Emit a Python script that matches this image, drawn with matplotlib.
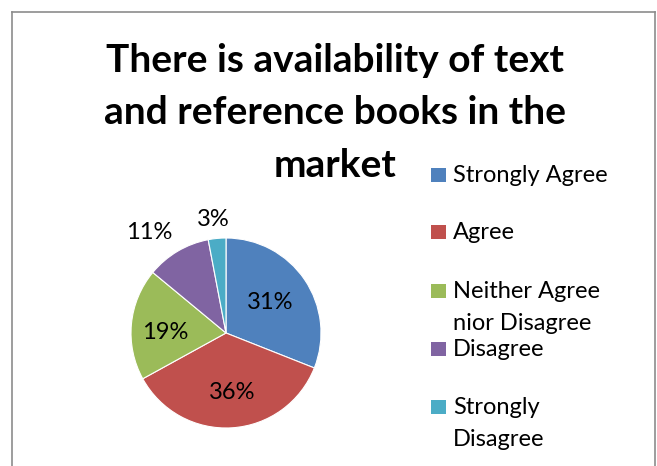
import matplotlib.pyplot as plt
from matplotlib.patches import Rectangle
from matplotlib.lines import Line2D

# ======================================================
# data
# ======================================================
categories = ["Strongly Agree", "Agree", "Neither Agree\nnior Disagree",
              "Disagree", "Strongly\nDisagree"]
shares = [31, 36, 19, 11, 3]
pct_labels = ["31%", "36%", "19%", "11%", "3%"]
colors = ["#4F81BD", "#C0504D", "#9BBB59", "#8064A2", "#4BACC6"]
title = "There is availability of text\nand reference books in the\nmarket"

plt.rcParams["font.family"] = ["Lato", "DejaVu Sans"]

W, H = 657, 466
fig = plt.figure(figsize=(W / 100, H / 100), dpi=100)

def fx(x):
    return x / W

def fy(y):
    return 1 - y / H

# chart frame (runs off the bottom of the picture)
for xs, ys in [([12, 12], [12, 470]), ([12, 655], [12, 12]), ([655, 655], [12, 470])]:
    fig.add_artist(Line2D([fx(x) for x in xs], [fy(y) for y in ys],
                          color="#8c8c8c", lw=1.2))

# ======================================================
# pie
# ======================================================
cx, cy, r = 226, 333, 95
ax = fig.add_axes([fx(cx - r), fy(cy + r), 2 * r / W, 2 * r / H])
wedges, _ = ax.pie(shares, colors=colors, startangle=90, counterclock=False,
                   wedgeprops=dict(edgecolor="white", linewidth=0.8))
ax.set_xlim(-1, 1)
ax.set_ylim(-1, 1)
ax.set_aspect("auto")
ax.axis("off")

# label spots (fraction of radius), roughly where Excel's best fit put them
label_pos = [(0.47, 0.32), (0.07, -0.63), (-0.64, 0.01), (-0.81, 1.06), (-0.13, 1.19)]
for (lx, ly), txt in zip(label_pos, pct_labels):
    ax.text(lx, ly, txt, ha="center", va="center", fontsize=17, color="black")

# ======================================================
# title, one baseline per line
# ======================================================
for i, line in enumerate(title.split("\n")):
    fig.text(fx(335), fy(72 + 52.5 * i), line, ha="center", va="baseline",
             fontsize=28, fontweight="bold")

# ======================================================
# legend (drawn by hand to keep Excel's uneven spacing)
# ======================================================
leg_base = [182, 239, 298, 356, 414]
for y, c, lab in zip(leg_base, colors, categories):
    fig.add_artist(Rectangle((fx(431), fy(y)), 15 / W, 14 / H,
                             facecolor=c, edgecolor="none"))
    for j, part in enumerate(lab.split("\n")):
        fig.text(fx(453), fy(y + 32.5 * j), part, ha="left", va="baseline",
                 fontsize=17)

fig.savefig("out.png", dpi=100)
